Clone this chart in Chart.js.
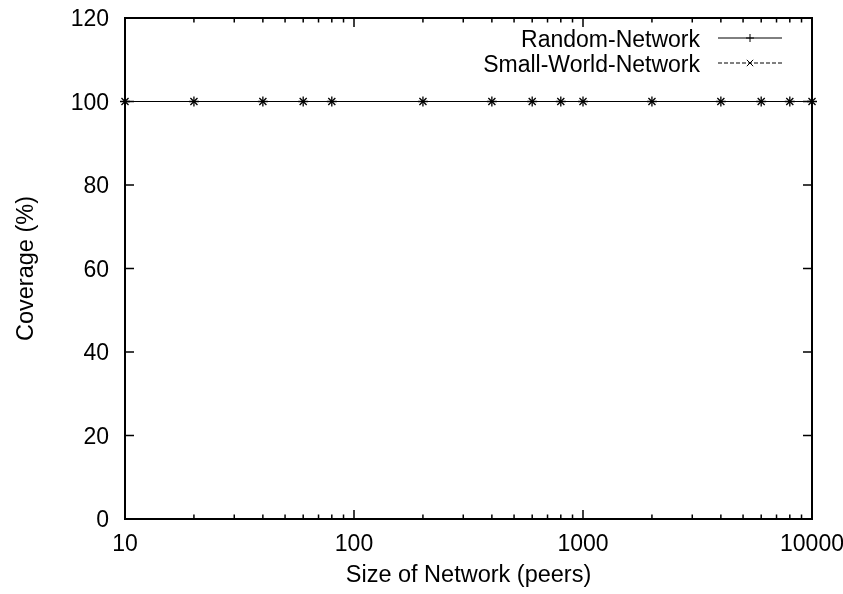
<!DOCTYPE html>
<html lang="en">
  <head>
    <meta charset="UTF-8" />
    <title>Coverage vs Size of Network</title>
    <script src="https://cdn.jsdelivr.net/npm/chart.js"></script>
    <style>
      html, body { margin: 0; padding: 0; background: #fff; overflow: hidden; }
    </style>
  </head>
  <body>
    <div style="width: 843px; height: 594px">
      <canvas id="chart"></canvas>
    </div>
    <script>
      // network sizes (peers) and coverage values
      const sizes = [10, 20, 40, 60, 80, 200, 400, 600, 800, 1000, 2000, 4000, 6000, 8000, 10000];
      const randomCoverage = [100, 100, 100, 100, 100, 100, 100, 100, 100, 100, 100, 100, 100, 100, 100];
      const smallWorldCoverage = [100, 100, 100, 100, 100, 100, 100, 100, 100, 100, 100, 100, 100, 100, 100];
      const xTicks = [10, 100, 1000, 10000];
      const yTicks = [0, 20, 40, 60, 80, 100, 120];
      const seriesNames = ["Random-Network", "Small-World-Network"];

      const FONT = "23px 'Liberation Sans', Arial, sans-serif";
      const TITLE_FONT = "23.5px 'Liberation Sans', Arial, sans-serif";

      const toPoints = (vals) => sizes.map((x, i) => ({ x: x, y: vals[i] }));

      // gnuplot-like frame: box, inward ticks, labels, titles, legend
      const framePlugin = {
        id: "frame",
        afterDraw(chart) {
          const ctx = chart.ctx;
          const a = chart.chartArea;
          const xs = chart.scales.x;
          const ys = chart.scales.y;
          ctx.save();
          ctx.strokeStyle = "#000";
          ctx.fillStyle = "#000";

          // ticks
          ctx.lineWidth = 1.5;
          ctx.beginPath();
          yTicks.forEach((v) => {
            const py = ys.getPixelForValue(v);
            ctx.moveTo(a.left, py); ctx.lineTo(a.left + 9, py);
            ctx.moveTo(a.right, py); ctx.lineTo(a.right - 9, py);
          });
          for (let dec = 10; dec < 10000; dec *= 10) {
            for (let m = 1; m <= 10; m++) {
              const v = dec * m;
              const px = xs.getPixelForValue(v);
              const len = (m === 1 || m === 10) ? 9 : 4.5;
              ctx.moveTo(px, a.bottom); ctx.lineTo(px, a.bottom - len);
              ctx.moveTo(px, a.top); ctx.lineTo(px, a.top + len);
            }
          }
          ctx.stroke();

          // box
          ctx.lineWidth = 2;
          ctx.strokeRect(a.left, a.top, a.right - a.left, a.bottom - a.top);

          // tick labels
          ctx.font = FONT;
          ctx.textAlign = "right";
          ctx.textBaseline = "middle";
          yTicks.forEach((v) => {
            ctx.fillText(String(v), a.left - 16, ys.getPixelForValue(v) + 2);
          });
          ctx.textAlign = "center";
          ctx.textBaseline = "alphabetic";
          xTicks.forEach((v) => {
            ctx.fillText(String(v), xs.getPixelForValue(v), a.bottom + 32);
          });

          // axis titles
          ctx.font = TITLE_FONT;
          ctx.fillText("Size of Network (peers)", (a.left + a.right) / 2, 582);
          ctx.save();
          ctx.translate(33, (a.top + a.bottom) / 2);
          ctx.rotate(-Math.PI / 2);
          ctx.fillText("Coverage (%)", 0, 0);
          ctx.restore();

          // legend
          ctx.font = FONT;
          const rows = [38, 63];
          chart.data.datasets.forEach((ds, i) => {
            const y = rows[i];
            ctx.textAlign = "right";
            ctx.textBaseline = "alphabetic";
            ctx.fillText(seriesNames[i], 700, y + 9);
            ctx.lineWidth = 1;
            ctx.setLineDash(ds.borderDash || []);
            ctx.beginPath();
            ctx.moveTo(718, y); ctx.lineTo(782, y);
            ctx.stroke();
            ctx.setLineDash([]);
            const r = 4;
            ctx.beginPath();
            if (ds.pointStyle === "cross") {
              ctx.moveTo(750 - r, y); ctx.lineTo(750 + r, y);
              ctx.moveTo(750, y - r); ctx.lineTo(750, y + r);
            } else {
              ctx.moveTo(750 - r * 0.8, y - r * 0.8); ctx.lineTo(750 + r * 0.8, y + r * 0.8);
              ctx.moveTo(750 - r * 0.8, y + r * 0.8); ctx.lineTo(750 + r * 0.8, y - r * 0.8);
            }
            ctx.stroke();
          });
          ctx.restore();
        },
      };

      new Chart(document.getElementById("chart"), {
        type: "line",
        data: {
          datasets: [
            {
              label: seriesNames[0],
              data: toPoints(randomCoverage),
              borderColor: "#000",
              backgroundColor: "#000",
              borderWidth: 1,
              pointStyle: "cross",
              pointRadius: 5,
              pointBorderWidth: 1.3,
              pointBorderColor: "#000",
              clip: false,
            },
            {
              label: seriesNames[1],
              data: toPoints(smallWorldCoverage),
              borderColor: "#000",
              backgroundColor: "#000",
              borderWidth: 1,
              borderDash: [4, 2],
              pointStyle: "crossRot",
              pointRadius: 5,
              pointBorderWidth: 1.3,
              pointBorderColor: "#000",
              clip: false,
            },
          ],
        },
        options: {
          responsive: true,
          maintainAspectRatio: false,
          animation: false,
          layout: { padding: { left: 125, right: 31, top: 18, bottom: 75 } },
          plugins: {
            legend: { display: false },
            tooltip: { enabled: false },
          },
          scales: {
            x: { type: "logarithmic", min: 10, max: 10000, display: false },
            y: { type: "linear", min: 0, max: 120, display: false },
          },
        },
        plugins: [framePlugin],
      });
    </script>
  </body>
</html>
